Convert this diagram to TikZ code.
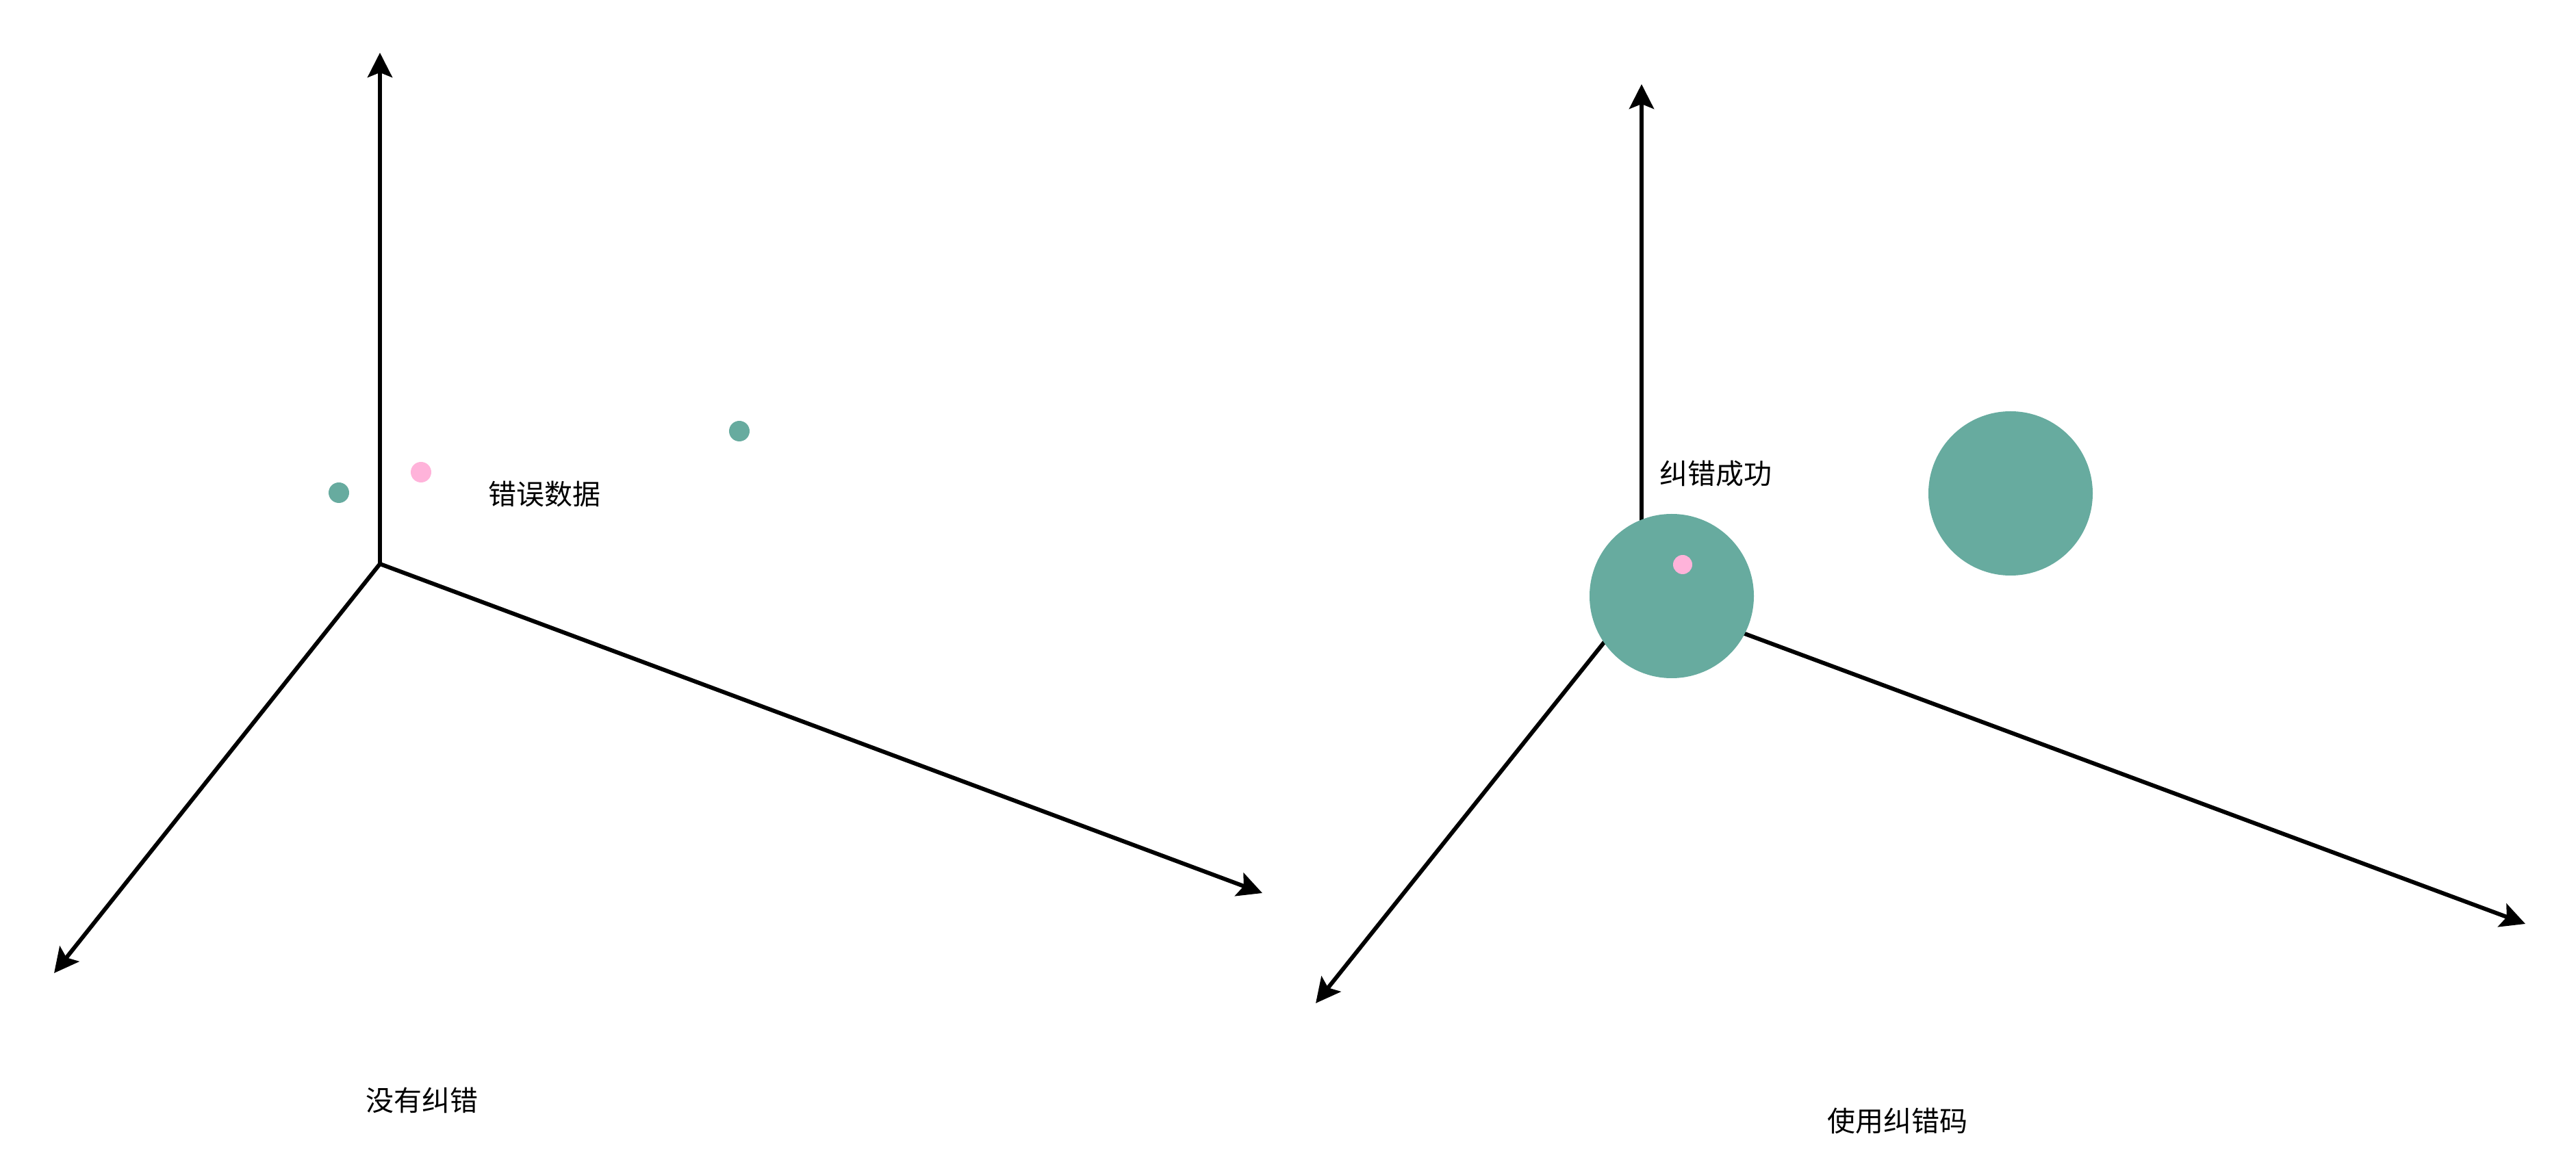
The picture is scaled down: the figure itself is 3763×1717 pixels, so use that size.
\documentclass[tikz,border=0pt]{standalone}
\usepackage{fontspec}
\setmainfont{Noto Sans CJK SC}
\usetikzlibrary{arrows.meta}
\definecolor{dotgreen}{HTML}{67AB9F}
\definecolor{dotpink}{HTML}{FFB3DA}

\begin{document}
\begin{tikzpicture}[x=0.2pt,y=-0.2pt,line width=1.2pt,
	axis/.style={-{Stealth[length=7.2pt,width=7.2pt,inset=1.4pt]}},
	dot/.style={circle,inner sep=0pt,minimum size=6pt},
	ball/.style={circle,inner sep=0pt,minimum size=48pt,fill=dotgreen},
	txt/.style={inner sep=0pt,font=\fontsize{8.2}{10}\selectfont}]
		\useasboundingbox (0,0) rectangle (3763,1717);
		% without correction
		\coordinate (o1) at (555,824);
		\coordinate (z1) at (555,77);
		\coordinate (y1) at (79,1422);
		\coordinate (x1) at (1844,1305);
		\draw[axis] (o1) -- (z1);
		\draw[axis] (o1) -- (y1);
		\draw[axis] (o1) -- (x1);
		\node[dot,fill=dotgreen] (a1) at (495,720) {};
		\node[dot,fill=dotpink] (e1) at (615,690) {};
		\node[dot,fill=dotgreen] (b1) at (1080,630) {};
		\node[txt] (err) at (795,722) {错误数据};
		\node[txt] (t1) at (616,1608) {没有纠错};
		% with correction
		\coordinate (o2) at (2398,870);
		\coordinate (z2) at (2398,123);
		\coordinate (y2) at (1922,1466);
		\coordinate (x2) at (3689,1350);
		\draw[axis] (o2) -- (z2);
		\draw[axis] (o2) -- (y2);
		\draw[axis] (o2) -- (x2);
		\node[ball] (a2) at (2442,871) {};
		\node[ball] (b2) at (2937,721) {};
		\node[dot,fill=dotpink,minimum size=5.6pt] (e2) at (2458,825) {};
		\node[txt] (ok) at (2506,692) {纠错成功};
		\node[txt] (t2) at (2772,1638) {使用纠错码};
	\end{tikzpicture}
\end{document}
